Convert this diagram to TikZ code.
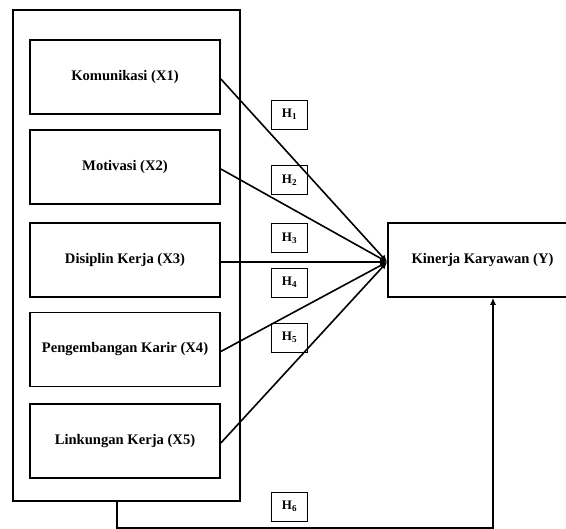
\documentclass[tikz,border=0pt]{standalone}
\usepackage{fontspec}
\setmainfont{Liberation Serif}
\usetikzlibrary{arrows.meta}
\tikzset{
	varbox/.style={draw,line width=1.7pt,minimum width=190pt,minimum height=74pt,inner sep=0pt,font=\fontsize{14.6}{16}\selectfont\bfseries},
	hbox/.style={draw,line width=.7pt,minimum width=36pt,minimum height=29pt,inner sep=0pt,font=\fontsize{13}{14}\selectfont\bfseries},
	path/.style={line width=1.6pt}
}
\newcommand{\hyp}[1]{H\textsubscript{#1}}
\begin{document}
\begin{tikzpicture}[x=1pt,y=-1pt,>={Latex[length=7pt,width=6pt]}]
	\useasboundingbox (0,0) rectangle (566,529);
	\clip (0,0) rectangle (566,529);

	\node[draw,line width=1.7pt,minimum width=227pt,minimum height=491pt,inner sep=0pt] (group) at (126.5,255.5) {};
	\node[varbox] (x1) at (125,77) {Komunikasi (X1)};
	\node[varbox] (x2) at (125,167) {Motivasi (X2)};
	\node[varbox] (x3) at (125,260) {Disiplin Kerja (X3)};
	\node[varbox] (x4) at (125,349.5) {Pengembangan Karir (X4)};
	\node[varbox] (x5) at (125,441) {Linkungan Kerja (X5)};

	\node[varbox,minimum width=189pt] (y) at (482.5,260) {Kinerja Karyawan (Y)};

	\node[hbox] (h1) at (289.5,114.5) {\hyp{1}};
	\node[hbox] (h2) at (289.5,180) {\hyp{2}};
	\node[hbox] (h3) at (289.5,238) {\hyp{3}};
	\node[hbox] (h4) at (289.5,282.5) {\hyp{4}};
	\node[hbox] (h5) at (289.5,337.5) {\hyp{5}};
	\node[hbox] (h6) at (289.5,506.5) {\hyp{6}};

	\foreach \i in {1,...,5}
		\draw[path,->] ([yshift=-2pt]x\i.east) -- ([yshift=-2pt]y.west);

	\draw[path,->] ([xshift=-9.5pt]group.south) -- ++(0,26) -| ([xshift=10.5pt]y.south);
\end{tikzpicture}
\end{document}
